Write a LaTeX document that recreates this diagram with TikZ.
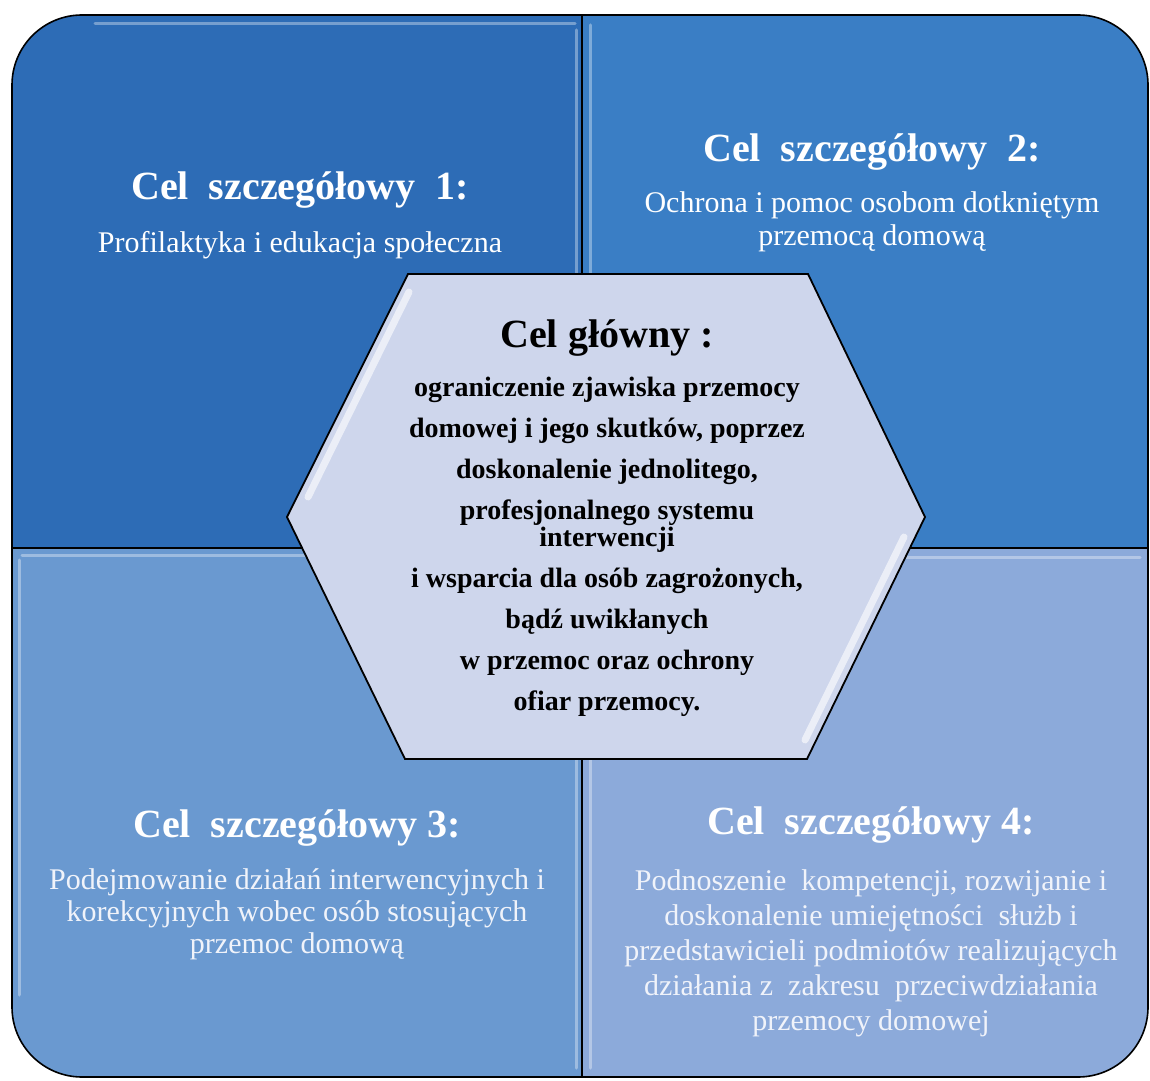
\documentclass[tikz,border=0pt]{standalone}
\usepackage{fontspec}
\setmainfont{Liberation Serif}
\definecolor{qone}{RGB}{45,108,182}
\definecolor{qtwo}{RGB}{58,126,197}
\definecolor{qthree}{RGB}{106,153,208}
\definecolor{qfour}{RGB}{140,170,218}
\definecolor{hexfill}{RGB}{206,214,236}
\definecolor{softwhite}{RGB}{240,243,250}
\begin{document}
\begin{tikzpicture}[x=1pt,y=1pt,
  quad/.style={draw=black,line width=1.6pt},
  bevel/.style={draw=white,line width=3pt,opacity=0.35,line cap=round},
  hexbevel/.style={draw=white,line width=7pt,opacity=0.6,line cap=round},
  title/.style={text=white,font=\bfseries\fontsize{40}{44}\selectfont,inner sep=0pt},
  body/.style={text=white,align=center,inner sep=0pt},
  hextext/.style={text=black,align=center,inner sep=0pt}]
\useasboundingbox (0,0) rectangle (1150,1080);
\fill[white] (0,0) rectangle (1150,1080);
% quadrants
\path[quad,fill=qone] (12,532) -- (12,995) arc[start angle=180,end angle=90,radius=70] -- (582,1065) -- (582,532) -- cycle;
\path[quad,fill=qtwo] (582,532) -- (582,1065) -- (1078,1065) arc[start angle=90,end angle=0,radius=70] -- (1148,532) -- cycle;
\path[quad,fill=qthree] (12,532) -- (582,532) -- (582,3) -- (82,3) arc[start angle=270,end angle=180,radius=70] -- cycle;
\path[quad,fill=qfour] (582,532) -- (1148,532) -- (1148,73) arc[start angle=0,end angle=-90,radius=70] -- (582,3) -- cycle;
% bevel highlights
\draw[bevel] (95,1056) -- (575,1056);
\draw[bevel] (576,1050) -- (576,540);
\draw[bevel] (590,1055) -- (590,540);
\draw[bevel] (22,524) -- (574,524);
\draw[bevel] (19,520) -- (19,85);
\draw[bevel] (576,520) -- (576,12);
\draw[bevel] (592,522) -- (1140,522);
\draw[bevel] (590,520) -- (590,12);
% hexagon
\path[draw=black,line width=1.8pt,fill=hexfill] (287,563) -- (408,806) -- (808,806) -- (925,563) -- (807,321) -- (405,321) -- cycle;
\draw[hexbevel] (308,583) -- (409,788);
\draw[hexbevel] (904,543) -- (805,340);
% texts
\node[title] (t1) at (300,890) {Cel\ \ szczegółowy\ \ 1:};
\node[body,font=\fontsize{30}{33}\selectfont] (b1) at (300,835) {Profilaktyka i edukacja społeczna};
\node[title] (t2) at (872,928) {Cel\ \ szczegółowy\ \ 2:};
\node[body,font=\fontsize{30}{33}\selectfont] (b2) at (872,858) {Ochrona i pomoc osobom dotkniętym\\przemocą domową};
\node[hextext,font=\bfseries\fontsize{40}{44}\selectfont] (h0) at (607,742) {Cel główny :};
\node[hextext,font=\bfseries\fontsize{28}{27}\selectfont] (h1) at (607,533) {ograniczenie zjawiska przemocy\\[14pt]domowej i jego skutków, poprzez\\[14pt]doskonalenie jednolitego,\\[14pt]profesjonalnego systemu\\interwencji\\[14pt]i wsparcia dla osób zagrożonych,\\[14pt]bądź uwikłanych\\[14pt]w przemoc oraz ochrony\\[14pt]ofiar przemocy.};
\node[title] (t3) at (297,252) {Cel\ \ szczegółowy 3:};
\node[body,text=softwhite,font=\fontsize{30}{32}\selectfont] (b3) at (297,166) {Podejmowanie działań interwencyjnych i\\korekcyjnych wobec osób stosujących\\przemoc domową};
\node[title] (t4) at (871,255) {Cel\ \ szczegółowy 4:};
\node[body,text=softwhite,font=\fontsize{30}{35}\selectfont] (b4) at (871,127) {Podnoszenie\ \ kompetencji, rozwijanie i\\doskonalenie umiejętności\ \ służb i\\przedstawicieli podmiotów realizujących\\działania z\ \ zakresu\ \ przeciwdziałania\\przemocy domowej};
\end{tikzpicture}
\end{document}
